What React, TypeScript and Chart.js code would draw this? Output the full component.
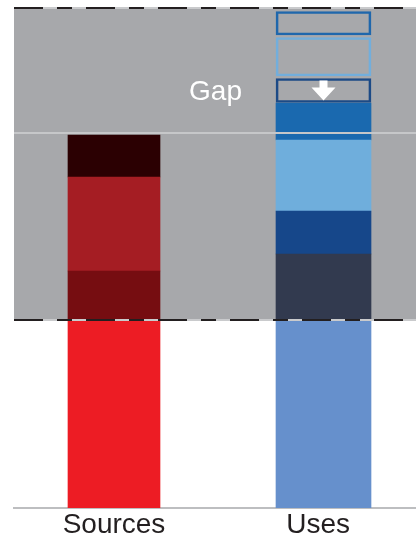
import React, { useEffect, useRef } from "react";
import { Chart, registerables } from "chart.js";

Chart.register(...registerables);

const categories = ["Sources", "Uses"];
const sourceSegments = [37.6, 9.8, 18.8, 8.4];
const sourceColors = ["#ED1C24", "#760D11", "#A51D23", "#2B0002"];
const useSegments = [37.6, 13.2, 8.6, 14.2, 7.4];
const useColors = ["#6690CC", "#323A4F", "#16478A", "#6FAEDC", "#1A69AF"];
const gapBoxes: [number, number][] = [
  [81.1, 85.9],
  [86.4, 94.1],
  [94.6, 99.3],
];
const gapBorderColors = ["#1C4A86", "#72AEDC", "#1F67AC"];
const bandRange = [37.6, 100];
const midLine = 75;
const gapLabel = "Gap";

const FONT = "'Liberation Sans', Arial, Helvetica, sans-serif";
// tick label anchor positions on the x scale (labels sit slightly left of the Uses column)
const LABEL_POS = [1, 1.974];

export default function App() {
  const ref = useRef<HTMLCanvasElement | null>(null);

  useEffect(() => {
    document.body.style.margin = "0";
    const canvas = ref.current;
    if (!canvas) return;

    const datasets: any[] = [];
    let acc = 0;
    sourceSegments.forEach((v, i) => {
      datasets.push({
        data: [{ x: 1, y: [acc, acc + v] }],
        backgroundColor: sourceColors[i],
        borderWidth: 0,
        barThickness: 92,
        grouped: false,
      });
      acc += v;
    });
    acc = 0;
    useSegments.forEach((v, i) => {
      datasets.push({
        data: [{ x: 2, y: [acc, acc + v] }],
        backgroundColor: useColors[i],
        borderWidth: 0,
        barThickness: 95,
        grouped: false,
      });
      acc += v;
    });
    const gapStart = datasets.length;
    gapBoxes.forEach((b, i) => {
      datasets.push({
        data: [{ x: 2, y: [b[0], b[1]] }],
        backgroundColor: "rgba(0,0,0,0)",
        borderColor: gapBorderColors[i],
        borderWidth: 2,
        borderSkipped: false,
        barThickness: 95,
        grouped: false,
      });
    });

    const decor = {
      id: "decor",
      beforeDatasetsDraw(chart: any) {
        const { ctx, chartArea, scales } = chart;
        const y = scales.y;
        const top = y.getPixelForValue(bandRange[1]);
        const bottom = y.getPixelForValue(bandRange[0]);
        ctx.save();
        ctx.fillStyle = "#A7A8AB";
        ctx.fillRect(chartArea.left, top, chartArea.right - chartArea.left, bottom - top);
        ctx.restore();
      },
      afterDatasetsDraw(chart: any) {
        const { ctx, chartArea, scales } = chart;
        const y = scales.y;
        ctx.save();
        const my = y.getPixelForValue(midLine);
        ctx.strokeStyle = "#C6C7C9";
        ctx.lineWidth = 2;
        ctx.beginPath();
        ctx.moveTo(chartArea.left, my);
        ctx.lineTo(chartArea.right, my);
        ctx.stroke();
        bandRange.forEach((v) => {
          const py = y.getPixelForValue(v);
          ctx.setLineDash([]);
          ctx.strokeStyle = "#C9CACC";
          ctx.lineWidth = 2;
          ctx.beginPath();
          ctx.moveTo(chartArea.left, py);
          ctx.lineTo(chartArea.right, py);
          ctx.stroke();
          ctx.setLineDash([29, 14, 15, 14]);
          ctx.strokeStyle = "#231F20";
          ctx.beginPath();
          ctx.moveTo(chartArea.left, py);
          ctx.lineTo(chartArea.right, py);
          ctx.stroke();
        });
        ctx.setLineDash([]);
        const el = chart.getDatasetMeta(gapStart).data[0];
        if (el) {
          const p = el.getProps(["x", "y", "base", "width"], true);
          const it = p.y + 2;
          const ib = p.base - 2;
          const h = ib - it;
          const headTop = it + h * 0.35;
          ctx.fillStyle = "#FFFFFF";
          ctx.beginPath();
          ctx.moveTo(p.x - 4, it);
          ctx.lineTo(p.x + 4, it);
          ctx.lineTo(p.x + 4, headTop);
          ctx.lineTo(p.x + 12, headTop);
          ctx.lineTo(p.x, ib);
          ctx.lineTo(p.x - 12, headTop);
          ctx.lineTo(p.x - 4, headTop);
          ctx.closePath();
          ctx.fill();
          ctx.font = `28px ${FONT}`;
          ctx.textAlign = "right";
          ctx.textBaseline = "middle";
          ctx.fillText(gapLabel, p.x - p.width / 2 - 34, (p.y + p.base) / 2 + 2);
        }
        ctx.restore();
      },
    };

    const chart = new Chart(canvas, {
      type: "bar",
      data: { datasets },
      options: {
        animation: false,
        responsive: true,
        maintainAspectRatio: false,
        layout: { padding: { left: 14, top: 8, right: 0, bottom: 0 } },
        plugins: { legend: { display: false }, tooltip: { enabled: false } },
        scales: {
          x: {
            type: "linear",
            offset: false,
            bounds: "data",
            min: 0.5227,
            max: 2.4415,
            grid: { display: false, drawTicks: false, offset: false },
            border: { display: true, color: "#BDBEC0", width: 2 },
            afterBuildTicks: (s: any) => {
              s.ticks = categories.map((_, i) => ({ value: LABEL_POS[i] }));
            },
            afterFit: (s: any) => {
              s.height = 31;
            },
            ticks: {
              callback: (_v: any, i: number) => categories[i] ?? "",
              font: { family: FONT, size: 28 },
              color: "#231F20",
              padding: 0,
              autoSkip: false,
              maxRotation: 0,
            },
          },
          y: { display: false, min: 0, max: 100 },
        },
      } as any,
      plugins: [decor],
    });
    return () => chart.destroy();
  }, []);

  return (
    <div style={{ position: "relative", width: 416, height: 539 }}>
      <canvas ref={ref} />
    </div>
  );
}
